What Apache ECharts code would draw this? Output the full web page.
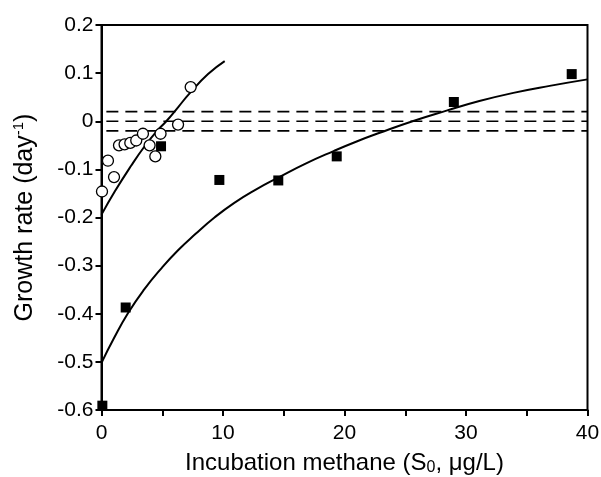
<!DOCTYPE html>
<html>
<head>
<meta charset="utf-8">
<script src="https://cdn.jsdelivr.net/npm/echarts@6/dist/echarts.min.js"></script>
<style>
  html, body { margin: 0; padding: 0; background: #fff; }
  #main { width: 601px; height: 477px; }
</style>
</head>
<body>
<div id="main"></div>
<script>
// filled squares
const squareX = [0.07, 1.99, 4.9, 9.7, 14.55, 19.36, 29.0, 38.7]
const squareY = [-0.591, -0.387, -0.052, -0.122, -0.123, -0.073, 0.040, 0.098]

// open circles
const circleX = [0.04, 0.53, 1.03, 1.44, 1.9, 2.37, 2.86, 3.41, 3.96, 4.43, 4.86, 6.3, 7.34]
const circleY = [-0.146, -0.082, -0.116, -0.05, -0.048, -0.045, -0.04, -0.026, -0.05, -0.073, -0.026, -0.007, 0.071]

// fitted curves
const upperX = [0, 1.09, 2.45, 3.55, 4.5, 5.33, 6.3, 7.25, 8.77, 10.14]
const upperY = [-0.194, -0.146, -0.092, -0.052, -0.022, 0.0, 0.029, 0.058, 0.098, 0.125]
const lowerX = [0, 1, 2.2, 3.5, 4.95, 6.3, 7.7, 9.3, 10.9, 12.7, 14.55, 16.8, 19.1, 21, 22.9, 25.6, 28.4, 31.1, 33.9, 37, 40]
const lowerY = [-0.502, -0.452, -0.398, -0.35, -0.305, -0.268, -0.235, -0.2, -0.17, -0.142, -0.117, -0.088, -0.062, -0.042, -0.024, 0.0, 0.022, 0.042, 0.059, 0.074, 0.087]

// horizontal dashed lines
const dashLevels = [0.02, 0, -0.02]
const dashX = [0.4, 40]

const xTicks = [0, 10, 20, 30, 40]

const pairs = (xs, ys) => xs.map((x, i) => [x, ys[i]])

const myChart = echarts.init(document.getElementById('main'))

const font = 'Liberation Sans, Arial, Helvetica, sans-serif'
const black = '#000'

const dashSeries = dashLevels.map(lv => ({
    type: 'line',
    data: dashX.map(x => [x, lv]),
    symbol: 'none',
    silent: true,
    lineStyle: { color: black, width: 1.6, type: [12, 7] },
    z: 1
}))

myChart.setOption({
    animation: false,
    grid: {
        left: 101.5, right: 13.5, top: 25, bottom: 67,
        outerBoundsMode: 'none',
        containLabel: false,
        show: true, borderColor: black, borderWidth: 2, backgroundColor: 'transparent'
    },
    xAxis: {
        type: 'value',
        min: 0, max: 40, interval: 5,
        name: '{a|Incubation methane (S}{b|0}{a|, μg/L)}',
        nameLocation: 'middle',
        nameGap: 40,
        nameTextStyle: {
            rich: {
                a: { fontFamily: font, fontSize: 24, color: black },
                b: { fontFamily: font, fontSize: 16, color: black, padding: [10, 0, 0, 0] }
            }
        },
        axisLine: { show: true, onZero: false, lineStyle: { color: black, width: 2 } },
        axisTick: { show: true, inside: false, length: 6, lineStyle: { color: black, width: 2 } },
        splitLine: { show: false },
        axisLabel: {
            color: black, fontFamily: font, fontSize: 21, margin: 13,
            formatter: v => (xTicks.includes(v) ? String(v) : '')
        }
    },
    yAxis: {
        type: 'value',
        min: -0.6, max: 0.2, interval: 0.1,
        name: '{a|Growth rate (day}{b|-1}{a|)}',
        nameLocation: 'middle',
        nameGap: 63,
        nameRotate: 90,
        nameTextStyle: {
            rich: {
                a: { fontFamily: font, fontSize: 25, color: black },
                b: { fontFamily: font, fontSize: 15, color: black, padding: [0, 0, 12, 0] }
            }
        },
        axisLine: { show: true, onZero: false, lineStyle: { color: black, width: 2 } },
        axisTick: { show: true, inside: false, length: 6, lineStyle: { color: black, width: 2 } },
        splitLine: { show: false },
        axisLabel: {
            color: black, fontFamily: font, fontSize: 21, margin: 8,
            formatter: v => (Math.abs(v) < 1e-9 ? '0' : v.toFixed(1))
        }
    },
    series: [
        ...dashSeries,
        {
            type: 'line',
            data: pairs(upperX, upperY),
            symbol: 'none',
            smooth: 0.5,
            lineStyle: { color: black, width: 2 },
            z: 2
        },
        {
            type: 'line',
            data: pairs(lowerX, lowerY),
            symbol: 'none',
            smooth: 0.5,
            lineStyle: { color: black, width: 2 },
            z: 2
        },
        {
            type: 'scatter',
            data: pairs(circleX, circleY),
            symbol: 'circle',
            symbolSize: 11,
            itemStyle: { color: '#fff', borderColor: black, borderWidth: 1.3, opacity: 1 },
            z: 3
        },
        {
            type: 'scatter',
            data: pairs(squareX, squareY),
            symbol: 'rect',
            symbolSize: 10,
            itemStyle: { color: black, opacity: 1 },
            z: 4
        }
    ]
})
</script>
</body>
</html>
